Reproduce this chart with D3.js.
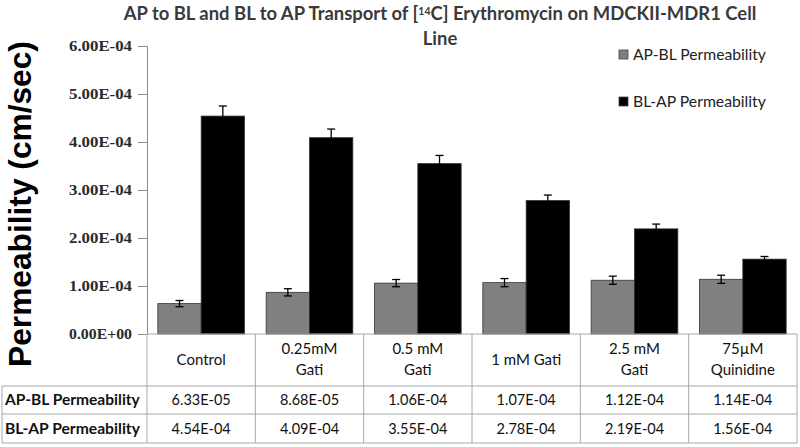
<!DOCTYPE html>
<html>
<head>
<meta charset="utf-8">
<script src="https://cdn.jsdelivr.net/npm/d3@7"></script>
<style>
  body { margin: 0; background: #fff; }
  svg { display: block; }
</style>
</head>
<body>
<svg id="chart" width="800" height="447"></svg>
<script>
// data
const categories = [["Control"], ["0.25mM", "Gati"], ["0.5 mM", "Gati"], ["1 mM Gati"], ["2.5 mM", "Gati"], ["75\u00b5M", "Quinidine"]];
const seriesNames = ["AP-BL Permeability", "BL-AP Permeability"];
const apbl = [6.33e-5, 8.68e-5, 1.06e-4, 1.07e-4, 1.12e-4, 1.14e-4];
const blap = [4.54e-4, 4.09e-4, 3.55e-4, 2.78e-4, 2.19e-4, 1.56e-4];
const apblErr = [0.65e-5, 0.75e-5, 0.75e-5, 0.85e-5, 0.85e-5, 0.85e-5];
const blapErr = [2.1e-5, 1.8e-5, 1.7e-5, 1.15e-5, 1.0e-5, 0.55e-5];
const apblLabels = ["6.33E-05", "8.68E-05", "1.06E-04", "1.07E-04", "1.12E-04", "1.14E-04"];
const blapLabels = ["4.54E-04", "4.09E-04", "3.55E-04", "2.78E-04", "2.19E-04", "1.56E-04"];
const yTicks = [0, 1e-4, 2e-4, 3e-4, 4e-4, 5e-4, 6e-4];
const colors = ["#808080", "#000000"];

const svg = d3.select('#chart');
const plotLeft = 147, plotRight = 797, plotTop = 46, plotBottom = 334;

// the source image is a bit stretched sideways, so size some texts to the width they take there
function fitWidth(sel, target) {
    const n = sel.node();
    const w = n.getComputedTextLength ? n.getComputedTextLength() : n.getBBox().width;
    const fs = parseFloat(sel.style('font-size'));
    if (w > 0) sel.style('font-size', (fs * target / w) + 'px');
    return sel;
}

const x = d3.scaleBand().domain(d3.range(categories.length)).range([plotLeft, plotRight])
    .paddingInner(0.2).paddingOuter(0.1);
const xs = d3.scaleBand().domain([0, 1]).range([0, x.bandwidth()]);
const y = d3.scaleLinear().domain([0, 6e-4]).range([plotBottom, plotTop]);

// title
const titleFont = sel => sel.attr('text-anchor', 'middle')
    .style('font-family', 'Lato, sans-serif').style('font-weight', 'bold')
    .style('font-size', '16px').style('fill', '#3a3a3a');
const title = svg.append('text').attr('x', 440).attr('y', 20).call(titleFont);
title.append('tspan').text('AP to BL and BL to AP Transport of [');
title.append('tspan').attr('dy', -5).style('font-size', '10.5px').text('14');
title.append('tspan').attr('dy', 5).text('C] Erythromycin on MDCKII-MDR1 Cell');
const tb = title.node().getBBox();
const titleSize = 16 * 636 / tb.width;
title.style('font-size', titleSize + 'px');
svg.append('text').attr('x', 440).attr('y', 45).call(titleFont).style('font-size', titleSize + 'px').text('Line');

// y axis
const yAxis = svg.append('g')
    .attr('transform', `translate(${plotLeft},0)`)
    .call(d3.axisLeft(y).tickValues(yTicks).tickSize(9).tickPadding(6)
        .tickFormat(d => d.toExponential(2).replace('e-', 'E-0').replace('e+', 'E+0')));
yAxis.select('.domain').attr('stroke', '#8a8a8a');
yAxis.selectAll('.tick line').attr('stroke', '#8a8a8a');
yAxis.selectAll('.tick text')
    .attr('textLength', 63).attr('lengthAdjust', 'spacingAndGlyphs')
    .style('font-family', '"Liberation Serif", serif').style('font-weight', 'bold')
    .style('font-size', '14.5px').style('fill', '#2a2a2a');

const yTitle = svg.append('text')
    .attr('transform', `translate(31,${(40 + 368) / 2}) rotate(-90)`)
    .attr('text-anchor', 'middle')
    .style('font-family', '"Liberation Sans", Arial, sans-serif').style('font-weight', 'bold')
    .style('font-size', '26px').style('fill', '#000')
    .text('Permeability (cm/sec)');
fitWidth(yTitle, 326);

// bars
const series = [apbl, blap];
const errs = [apblErr, blapErr];
series.forEach((vals, s) => {
    svg.append('g').selectAll('rect')
        .data(vals)
        .join('rect')
        .attr('x', (d, i) => x(i) + xs(s))
        .attr('y', d => y(d))
        .attr('width', xs.bandwidth())
        .attr('height', d => y(0) - y(d))
        .attr('fill', colors[s])
        .attr('stroke', '#333').attr('stroke-width', 0.8);

    const eb = svg.append('g').attr('stroke', '#000').attr('stroke-width', 1.3);
    vals.forEach((d, i) => {
        const cx = x(i) + xs(s) + xs.bandwidth() / 2;
        const e = errs[s][i];
        eb.append('line').attr('x1', cx).attr('x2', cx).attr('y1', y(d + e)).attr('y2', y(d - e));
        eb.append('line').attr('x1', cx - 4).attr('x2', cx + 4).attr('y1', y(d + e)).attr('y2', y(d + e));
        eb.append('line').attr('x1', cx - 4).attr('x2', cx + 4).attr('y1', y(d - e)).attr('y2', y(d - e));
    });
});

// legend
const legend = svg.append('g');
seriesNames.forEach((name, s) => {
    const ly = 55 + s * 47;
    legend.append('rect').attr('x', 619).attr('y', ly - 5).attr('width', 9).attr('height', 9)
        .attr('fill', colors[s]).attr('stroke', '#444').attr('stroke-width', 0.8);
    const lt = legend.append('text').attr('x', 633).attr('y', ly + 5)
        .style('font-family', 'Lato, sans-serif').style('font-size', '15px').style('fill', '#222')
        .text(name);
    fitWidth(lt, 133);
});

// data table
const step = x.step();
const rowY = [plotBottom, 386, 414, 443];
const grid = svg.append('g').attr('stroke', '#a8a8a8').attr('stroke-width', 1).attr('fill', 'none');
grid.append('line').attr('x1', plotLeft).attr('x2', plotRight).attr('y1', rowY[0]).attr('y2', rowY[0]);
[1, 2, 3].forEach(r => grid.append('line').attr('x1', 2).attr('x2', plotRight).attr('y1', rowY[r]).attr('y2', rowY[r]));
grid.append('line').attr('x1', 2).attr('x2', 2).attr('y1', rowY[1]).attr('y2', rowY[3]);
d3.range(categories.length + 1).forEach(i => {
    const vx = plotLeft + i * step;
    grid.append('line').attr('x1', vx).attr('x2', vx).attr('y1', rowY[0]).attr('y2', rowY[3]);
});

const tfont = sel => sel.style('font-family', 'Lato, sans-serif').style('font-size', '15px').style('fill', '#111');
categories.forEach((lines, i) => {
    const cx = plotLeft + (i + 0.5) * step;
    const t = svg.append('text').attr('text-anchor', 'middle').call(tfont);
    const y0 = lines.length === 1 ? 365 : 354;
    lines.forEach((ln, k) => t.append('tspan').attr('x', cx).attr('y', y0 + k * 21).text(ln));
});
[apblLabels, blapLabels].forEach((labels, r) => {
    const cy = (rowY[r + 1] + rowY[r + 2]) / 2 + 5;
    const rl = svg.append('text').attr('x', 5).attr('y', cy).call(tfont)
        .style('font-weight', 'bold').style('font-size', '15px').text(seriesNames[r]);
    fitWidth(rl, 135);
    labels.forEach((lab, i) => {
        svg.append('text').attr('x', plotLeft + (i + 0.5) * step).attr('y', cy)
            .attr('text-anchor', 'middle').call(tfont).style('font-size', '14.5px').text(lab);
    });
});
</script>
</body>
</html>
